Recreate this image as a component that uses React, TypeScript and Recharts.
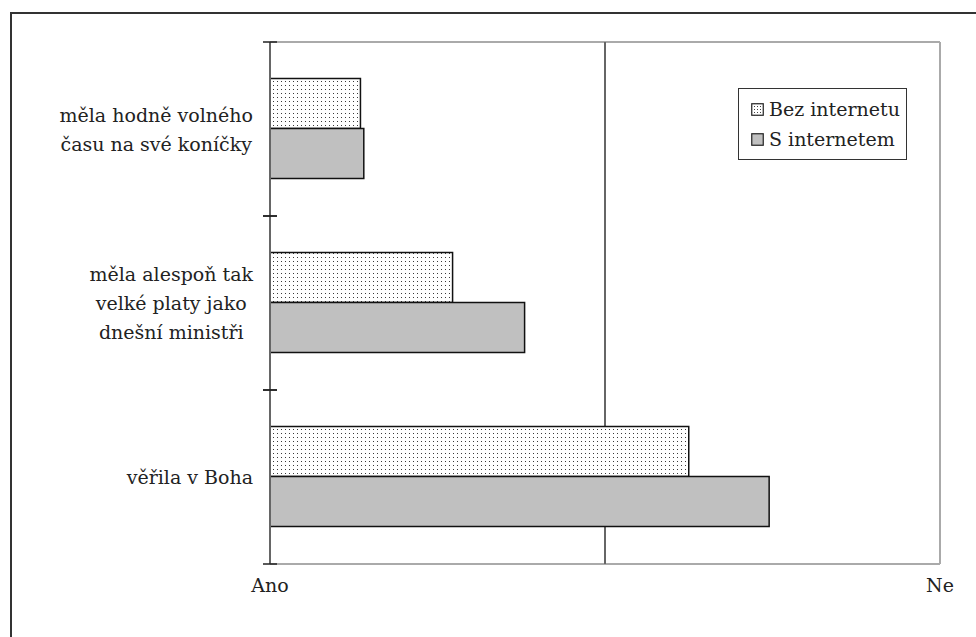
import React from "react";
import {
  Bar,
  BarChart,
  CartesianGrid,
  XAxis,
  YAxis
} from "recharts";

const categories = [
  "měla hodně volného času na své koníčky",
  "měla alespoň tak velké platy jako dnešní ministři",
  "věřila v Boha"
];
const categoryLines = [
  ["měla hodně volného", "času na své koníčky"],
  ["měla alespoň tak", "velké platy jako", "dnešní ministři"],
  ["věřila v Boha"]
];
const bezInternetu = [0.54, 1.09, 2.5];
const sInternetem = [0.56, 1.52, 2.98];
const xTicks = [0, 4];
const xTickLabels = ["Ano", "Ne"];
const midValue = 2;
const seriesNames = ["Bez internetu", "S internetem"];

const data = categories.map((name, i) => ({
  name,
  bez: bezInternetu[i],
  s: sInternetem[i]
}));

const FONT = '"DejaVu Serif", serif';
const FONT_SIZE = 19;
const W = 976;
const H = 637;
const MARGIN = { top: 42, right: 36, bottom: 33, left: 0 };
const X_AXIS_H = 40;
const PLOT_H = H - MARGIN.top - MARGIN.bottom - X_AXIS_H;
const BAND = PLOT_H / categories.length;

let canvas: HTMLCanvasElement | null = null;
function textWidth(s: string) {
  if (!canvas) canvas = document.createElement("canvas");
  const ctx = canvas.getContext("2d");
  if (!ctx) return s.length * 10;
  ctx.font = `${FONT_SIZE}px DejaVu Serif`;
  return ctx.measureText(s).width;
}

function CategoryTick(props: any) {
  const { x, y, payload } = props;
  const idx = categories.indexOf(payload.value);
  const lines = categoryLines[idx] || [payload.value];
  const blockW = Math.max(...lines.map(textWidth));
  const cx = x - 17 - blockW / 2;
  const lh = 29;
  const y0 = y - ((lines.length - 1) * lh) / 2;
  return (
    <g>
      <line x1={x - 7} x2={x + 7} y1={y - BAND / 2} y2={y - BAND / 2} stroke="#222" strokeWidth={1.5} />
      <line x1={x - 7} x2={x + 7} y1={y + BAND / 2} y2={y + BAND / 2} stroke="#222" strokeWidth={1.5} />
      {lines.map((l, i) => (
        <text
          key={i}
          x={cx}
          y={y0 + i * lh}
          textAnchor="middle"
          dominantBaseline="central"
          fontFamily={FONT}
          fontSize={FONT_SIZE}
          fill="#222"
        >
          {l}
        </text>
      ))}
    </g>
  );
}

function Swatch({ dotted }: { dotted: boolean }) {
  return (
    <svg width={13} height={13} style={{ marginRight: 5, flex: "none" }}>
      <defs>
        <pattern id="lgDots" width={3} height={3} patternUnits="userSpaceOnUse">
          <rect width={3} height={3} fill="#fff" />
          <rect width={1} height={1} fill="#444" />
        </pattern>
      </defs>
      <rect
        x={0.75}
        y={0.75}
        width={11.5}
        height={11.5}
        fill={dotted ? "url(#lgDots)" : "#c0c0c0"}
        stroke="#222"
        strokeWidth={1.2}
      />
    </svg>
  );
}

// position of the middle divider, taken from the x domain
const midX = ({ offset }: any) => {
  const lo = xTicks[0];
  const hi = xTicks[xTicks.length - 1];
  return [offset.left + (offset.width * (midValue - lo)) / (hi - lo)];
};

export default function App() {
  return (
    <div
      style={{
        position: "absolute",
        left: 0,
        top: 0,
        width: W,
        height: H,
        overflow: "hidden",
        background: "#fff"
      }}
    >
      <div
        style={{
          position: "absolute",
          left: 10,
          top: 12,
          width: W + 20,
          height: H + 20,
          borderLeft: "2px solid #333",
          borderTop: "2px solid #333"
        }}
      />
      <div style={{ position: "absolute", left: 0, top: 0 }}>
        <BarChart
          width={W}
          height={H}
          data={data}
          layout="vertical"
          margin={MARGIN}
          barCategoryGap="21%"
          barGap={0}
        >
          <defs>
            <pattern id="dots" width={4} height={4} patternUnits="userSpaceOnUse">
              <rect width={4} height={4} fill="#fff" />
              <rect x={1} y={1} width={1} height={1} fill="#3a3a3a" />
            </pattern>
          </defs>
          <CartesianGrid
            stroke="#aaa"
            strokeWidth={2}
            horizontalCoordinatesGenerator={({ offset }: any) => [offset.top, offset.top + offset.height]}
            verticalCoordinatesGenerator={({ offset }: any) => [offset.left + offset.width]}
          />
          <CartesianGrid
            stroke="#666"
            strokeWidth={2}
            horizontal={false}
            verticalCoordinatesGenerator={midX}
          />
          <XAxis
            type="number"
            domain={[xTicks[0], xTicks[xTicks.length - 1]]}
            ticks={xTicks}
            tickFormatter={(v: number) => xTickLabels[xTicks.indexOf(v)]}
            axisLine={false}
            tickLine={false}
            tickMargin={9}
            height={X_AXIS_H}
            tick={{ fontFamily: FONT, fontSize: FONT_SIZE, fill: "#222" }}
            interval={0}
          />
          <YAxis
            type="category"
            dataKey="name"
            width={270}
            axisLine={{ stroke: "#666", strokeWidth: 2 }}
            tickLine={false}
            tickSize={0}
            tickMargin={0}
            tick={<CategoryTick />}
            interval={0}
          />
          <Bar
            dataKey="bez"
            name={seriesNames[0]}
            fill="url(#dots)"
            stroke="#111"
            strokeWidth={1.5}
            isAnimationActive={false}
          />
          <Bar
            dataKey="s"
            name={seriesNames[1]}
            fill="#c0c0c0"
            stroke="#111"
            strokeWidth={1.5}
            isAnimationActive={false}
          />
        </BarChart>
      </div>
      <div
        style={{
          position: "absolute",
          left: 738,
          top: 88,
          width: 169,
          height: 72,
          boxSizing: "border-box",
          border: "1px solid #333",
          background: "#fff",
          fontFamily: FONT,
          fontSize: FONT_SIZE,
          color: "#222",
          padding: "5px 0 0 12px",
          whiteSpace: "nowrap"
        }}
      >
        <div style={{ display: "flex", alignItems: "center", height: 30 }}>
          <Swatch dotted />
          {seriesNames[0]}
        </div>
        <div style={{ display: "flex", alignItems: "center", height: 30 }}>
          <Swatch dotted={false} />
          {seriesNames[1]}
        </div>
      </div>
    </div>
  );
}
